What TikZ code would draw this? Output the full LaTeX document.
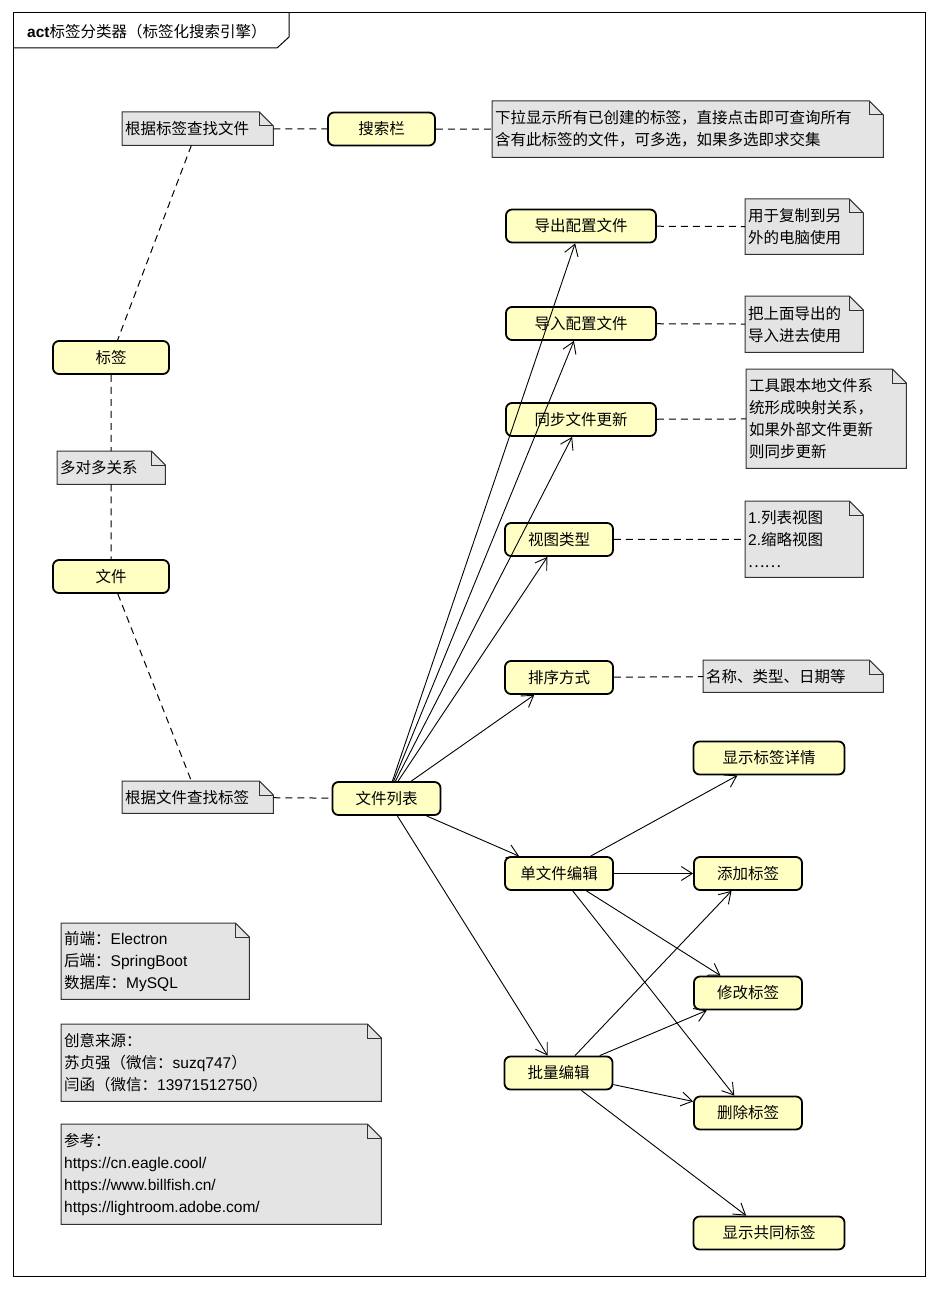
\documentclass[tikz,border=0pt]{standalone}
\usepackage{fontspec}
\setmainfont{Noto Sans CJK SC}
\newfontfamily\lat{Liberation Sans}
\usetikzlibrary{arrows.meta,backgrounds}
\definecolor{actfill}{RGB}{255,255,196}
\definecolor{notefill}{RGB}{228,228,228}
\definecolor{noteline}{RGB}{50,50,50}
\newcommand{\notecorner}[1]{%
\filldraw[notebox, fill=notefill] (#1.north west) -- ([xshift=-14pt]#1.north east) -- ([yshift=-14pt]#1.north east) -- (#1.south east) -- (#1.south west) -- cycle;
\draw[notebox] ([xshift=-14pt]#1.north east) |- ([yshift=-14pt]#1.north east);}

\begin{document}
\begin{tikzpicture}[x=1pt, y=-1pt,
  act/.style={draw, line width=1.8pt, rounded corners=6pt, fill=actfill, minimum height=33pt, inner sep=0pt, font=\fontsize{15.5}{22}\selectfont},
  note/.style={anchor=north west, inner xsep=3pt, inner ysep=0pt, align=left, font=\fontsize{15.5}{22}\selectfont},
  notebox/.style={draw=noteline, line width=1pt},
  link/.style={dash pattern=on 7pt off 5pt, line width=1pt},
  flow/.style={-{Straight Barb[length=11pt,width=14pt]}, line width=0.9pt}]
\useasboundingbox (0,0) rectangle (938,1289);
\draw[line width=1pt] (13,13) rectangle (925,1276);
\draw[line width=1pt] (13,48) -- (277,48) -- (289,37) -- (289,13);
\node[anchor=west, inner sep=0pt, font=\fontsize{15.5}{22}\selectfont] (title) at (27,32) {{\lat\bfseries act}标签分类器（标签化搜索引擎）};

\node[act, minimum width=107pt] (sousuo) at (381.5,129) {搜索栏};
\node[act, minimum width=116pt] (biaoqian) at (111,357.5) {标签};
\node[act, minimum width=116pt] (wenjian) at (111,576.5) {文件};
\node[act, minimum width=150pt] (daochu) at (581,226) {导出配置文件};
\node[act, minimum width=150pt] (daoru) at (581,323.5) {导入配置文件};
\node[act, minimum width=150pt] (tongbu) at (581,419.5) {同步文件更新};
\node[act, minimum width=108pt] (shitu) at (559,539.5) {视图类型};
\node[act, minimum width=108pt] (paixu) at (559,677.5) {排序方式};
\node[act, minimum width=108pt] (liebiao) at (386.5,798.5) {文件列表};
\node[act, minimum width=151pt] (xiangqing) at (769,758) {显示标签详情};
\node[act, minimum width=108pt] (danwen) at (559,873.5) {单文件编辑};
\node[act, minimum width=108pt] (tianjia) at (748,873.5) {添加标签};
\node[act, minimum width=108pt] (xiugai) at (748,993) {修改标签};
\node[act, minimum width=108pt] (piliang) at (558.5,1073) {批量编辑};
\node[act, minimum width=108pt] (shanchu) at (748,1113) {删除标签};
\node[act, minimum width=151pt] (gongtong) at (769,1233) {显示共同标签};

\node[note, text width=145pt, minimum height=33pt] (nSousuo) at (122,112) {根据标签查找文件};
\node[note, text width=385pt, minimum height=56pt] (nXiala) at (492,101) {下拉显示所有已创建的标签，直接点击即可查询所有\\含有此标签的文件，可多选，如果多选即求交集};
\node[note, text width=112pt, minimum height=55pt] (nDaochu) at (745,199) {用于复制到另\\外的电脑使用};
\node[note, text width=112pt, minimum height=56pt] (nDaoru) at (745,296) {把上面导出的\\导入进去使用};
\node[note, text width=154pt, minimum height=99pt] (nTongbu) at (746,369) {工具跟本地文件系\\统形成映射关系，\\如果外部文件更新\\则同步更新};
\node[note, text width=112pt, minimum height=76pt] (nShitu) at (745,501) {{\lat 1.}列表视图\\{\lat 2.}缩略视图\\……};
\node[note, text width=174pt, minimum height=32pt] (nPaixu) at (703,660) {名称、类型、日期等};
\node[note, text width=102pt, minimum height=33pt] (nDuo) at (57,451) {多对多关系};
\node[note, text width=145pt, minimum height=32pt] (nWenjian) at (122,781) {根据文件查找标签};
\node[note, text width=182pt, minimum height=76pt] (nJishu) at (61,923) {前端：{\lat Electron}\\后端：{\lat SpringBoot}\\数据库：{\lat MySQL}};
\node[note, text width=314pt, minimum height=77pt] (nLaiyuan) at (61,1024) {创意来源：\\苏贞强（微信：{\lat suzq747}）\\闫函（微信：{\lat 13971512750}）};
\node[note, text width=314pt, minimum height=100pt] (nCankao) at (61,1124) {参考：\\{\lat https://cn.eagle.cool/}\\{\lat https://www.billfish.cn/}\\{\lat https://lightroom.adobe.com/}};

\begin{scope}[on background layer]
\foreach \n in {nSousuo,nXiala,nDaochu,nDaoru,nTongbu,nShitu,nPaixu,nDuo,nWenjian,nJishu,nLaiyuan,nCankao}
  {\notecorner{\n}}
\end{scope}

\draw[link] (nSousuo) -- (sousuo);
\draw[link] (sousuo) -- (nXiala);
\draw[link] (nSousuo) -- (biaoqian);
\draw[link] (biaoqian) -- (nDuo);
\draw[link] (nDuo) -- (wenjian);
\draw[link] (wenjian) -- (nWenjian);
\draw[link] (nWenjian) -- (liebiao);
\draw[link] (daochu) -- (nDaochu);
\draw[link] (daoru) -- (nDaoru);
\draw[link] (tongbu) -- (nTongbu);
\draw[link] (shitu) -- (nShitu);
\draw[link] (paixu) -- (nPaixu);

\foreach \t in {daochu,daoru,tongbu,shitu,paixu,danwen,piliang}
  \draw[flow] (liebiao) -- (\t);
\foreach \t in {xiangqing,tianjia,xiugai,shanchu}
  \draw[flow] (danwen) -- (\t);
\foreach \t in {tianjia,xiugai,shanchu,gongtong}
  \draw[flow] (piliang) -- (\t);
\end{tikzpicture}
\end{document}
